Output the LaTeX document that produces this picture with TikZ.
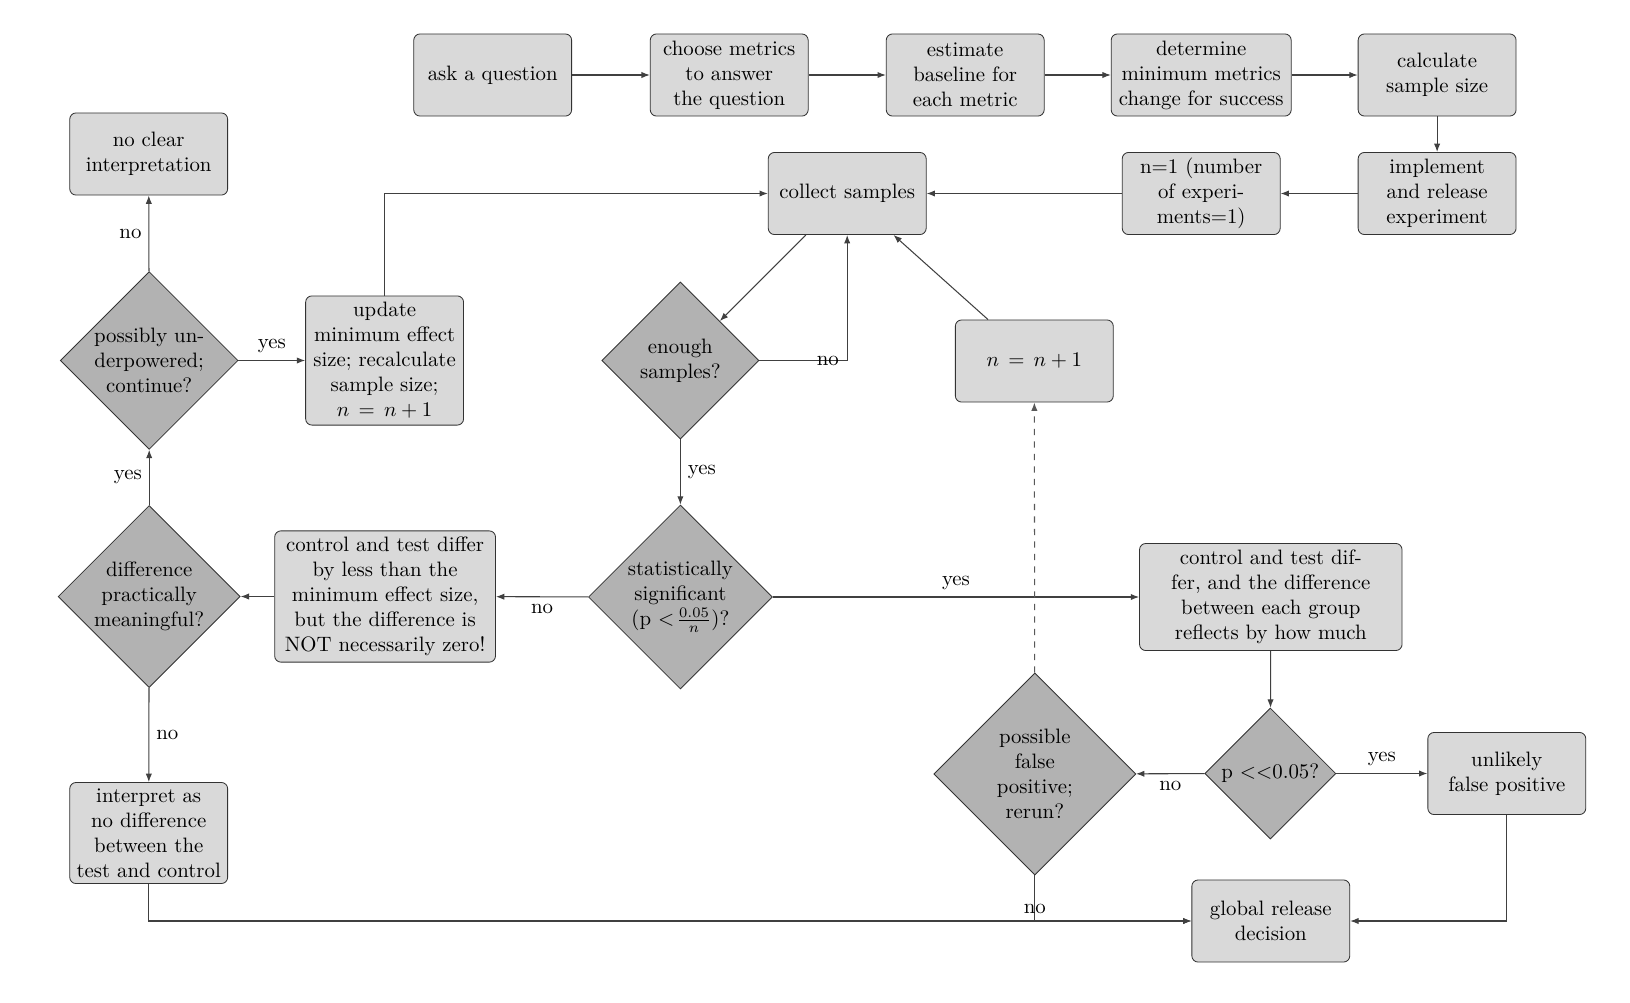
\documentclass[tikz,border=0pt]{standalone}
\usetikzlibrary{shapes.geometric,arrows.meta}
\begin{document}
\begin{tikzpicture}[x=0.48pt,y=-0.48pt,
 box/.style={draw=black!80, fill=black!15, rounded corners=3pt, align=center,
   minimum width=75.8pt, minimum height=39.4pt, inner sep=2pt},
 dia/.style={diamond, draw=black!80, fill=black!30, align=center, inner sep=0pt, aspect=1},
 arr/.style={draw=black!75, line width=0.5pt, -{Latex[length=4pt,width=3pt]}},
 ln/.style={draw=black!75, line width=0.5pt}]

\useasboundingbox (0,0) rectangle (1630,1002);

% top row
\node[box] (ask) at (492.7,75) {ask a question};
\node[box] (choose) at (729.2,75) {choose metrics\\to answer\\the question};
\node[box] (estimate) at (965.2,75) {estimate\\baseline for\\each metric};
\node[box, minimum width=86.4pt] (determine) at (1201.2,75) {determine\\minimum metrics\\change for success};
\node[box] (calc) at (1437.1,75) {calculate\\sample size};

% second row
\node[box] (collect) at (847.2,193.5) {collect samples};
\node[box] (none) at (1201.2,193.5) {n=1 (number\\of experi-\\ments=1)};
\node[box] (impl) at (1437.1,193.5) {implement\\and release\\experiment};

\node[box] (noclear) at (148.7,154) {no clear\\interpretation};

% middle
\node[dia, minimum width=85.3pt, minimum height=85.3pt] (under) at (149.2,360.5) {possibly un-\\derpowered;\\continue?};
\node[box, minimum height=62pt] (update) at (384.6,360.5) {update\\minimum effect\\size; recalculate\\sample size;\\$n\,=\,n + 1$};
\node[dia, minimum width=75.4pt, minimum height=75.4pt] (enough) at (680.4,360.5) {enough\\samples?};
\node[box] (ninc) at (1034.3,361) {$n\,=\,n + 1$};

\node[dia, minimum width=87.4pt, minimum height=87.4pt] (diff) at (149.2,596.5) {difference\\practically\\meaningful?};
\node[box, minimum width=106pt, minimum height=63pt] (less) at (385.1,596.5) {control and test differ\\by less than the\\minimum effect size,\\but the difference is\\NOT necessarily zero!};
\node[dia, minimum width=88.3pt, minimum height=88.3pt] (stat) at (680.4,597) {statistically\\significant\\(p $<\!\frac{0.05}{n}$)?};
\node[box, minimum width=126pt, minimum height=51.4pt] (differ) at (1270.8,597) {control and test dif-\\fer, and the difference\\between each group\\reflects by how much};

\node[dia, minimum width=62.9pt, minimum height=62.9pt] (pll) at (1270.3,773.5) {p $<<$0.05?};
\node[dia, minimum width=97pt, minimum height=97pt] (fp) at (1034.8,774) {possible\\false\\positive;\\rerun?};
\node[box] (unlikely) at (1506.8,773.5) {unlikely\\false positive};

\node[box, minimum height=48.5pt] (interp) at (148.7,833) {interpret as\\no difference\\between the\\test and control};
\node[box] (global) at (1270.8,921) {global release\\decision};

% connectors
\draw[arr] (ask) -- (choose);
\draw[arr] (choose) -- (estimate);
\draw[arr] (estimate) -- (determine);
\draw[arr] (determine) -- (calc);
\draw[arr] (calc) -- (impl);
\draw[arr] (impl) -- (none);
\draw[arr] (none) -- (collect);
\draw[arr] (update.north) |- (collect.west);
\draw[arr] (collect) -- (enough);
\draw[arr] (enough.east) -| node[pos=0.39]{no} (collect.south);
\draw[arr] (ninc) -- (collect);
\draw[arr] (enough) -- node[midway,right]{yes} (stat);
\draw[arr] (stat) -- node[midway,below]{no} (less);
\draw[arr] (less) -- (diff);
\draw[arr] (diff) -- node[midway,left]{yes} (under);
\draw[arr] (under) -- node[midway,left]{no} (noclear);
\draw[arr] (under) -- node[midway,above]{yes} (update);
\draw[arr] (diff) -- node[midway,right]{no} (interp);
\draw[arr] (interp.south) |- (global.west);
\draw[arr] (stat) -- node[midway,above]{yes} (differ);
\draw[arr] (differ) -- (pll);
\draw[arr] (pll) -- node[midway,above]{yes} (unlikely);
\draw[arr] (pll) -- node[midway,below]{no} (fp);
\draw[arr, dashed, draw=black!65] (fp) -- (ninc);
\draw[arr] (fp.south) |- node[pos=0.5,above]{no} (global.west);
\draw[arr] (unlikely.south) |- (global.east);
\end{tikzpicture}
\end{document}
